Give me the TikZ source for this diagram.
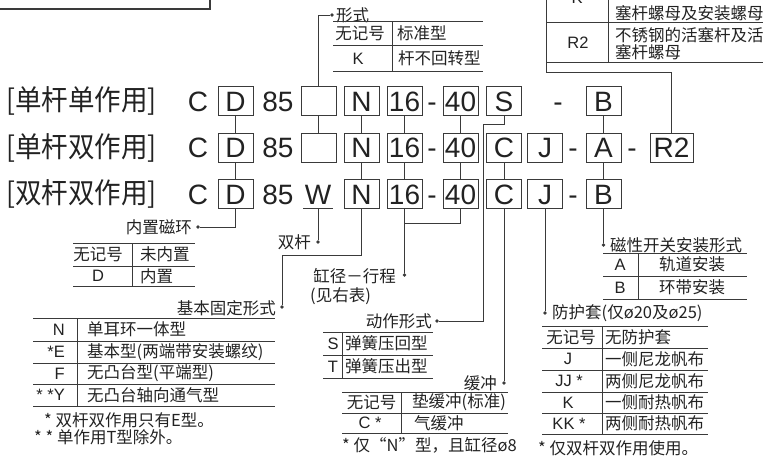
\documentclass[tikz,border=0pt]{standalone}
\usepackage{fontspec}
\setmainfont{Liberation Sans}
\newfontfamily\cjk{Noto Sans CJK SC}
\definecolor{ink}{HTML}{222222}
\definecolor{ln}{HTML}{3A3A3A}
\begin{document}
\begin{tikzpicture}[x=1pt,y=-1pt,
  big/.style={font=\fontsize{28}{28}\selectfont, text=ink, inner sep=0pt, text height=20pt, text depth=0pt},
  bigcjk/.style={font=\cjk\fontsize{28.5}{28.5}\selectfont, text=ink, inner sep=0pt},
  code/.style={big, draw=ln, line width=0.9pt, minimum width=35pt, minimum height=29pt},
  sm/.style={font=\cjk\fontsize{16.5}{16.5}\selectfont, text=ink, inner sep=0pt},
  lat/.style={font=\fontsize{16.5}{16.5}\selectfont, text=ink, inner sep=0pt},
  conn/.style={draw=ln, line width=0.9pt},
  rulel/.style={draw=ln, line width=0.9pt},
  dotm/.style={circle, fill=ln, inner sep=0pt, minimum size=3.8pt}
]
\useasboundingbox (0,0) rectangle (763,456);
\begin{scope}
\clip (0,0) rectangle (763,456);

% top-left box fragment
\draw[draw=ln, line width=1.8pt] (-5,9) -- (210,9) -- (210,-5);

% top-right table fragment
\draw[rulel] (546,22) -- (770,22);
\draw[rulel] (546,62) -- (770,62);
\draw[rulel] (608,-5) -- (608,62);
\node[lat] (tK) at (577,-2) {K};
\node[sm, anchor=west] (tK2) at (615,13) {塞杆螺母及安装螺母};
\node[lat] (tR2) at (578,43) {R2};
\node[sm, anchor=west] (tR2a) at (615,35) {不锈钢的活塞杆及活};
\node[sm, anchor=west] (tR2b) at (615,52) {塞杆螺母};

% ---------- code rows ----------
\node[bigcjk, anchor=west] (l1) at (6,101) {\scalebox{0.93}[1]{[单杆单作用]}};
\node[bigcjk, anchor=west] (l2) at (6,147.5) {\scalebox{0.93}[1]{[单杆双作用]}};
\node[bigcjk, anchor=west] (l3) at (6,194) {\scalebox{0.93}[1]{[双杆双作用]}};

% row 1
\node[big] (c1) at (198,101) {C};
\node[code] (d1) at (235.5,101) {D};
\node[big] (k1) at (278,101) {85};
\node[code] (e1) at (318.5,101) {};
\node[code] (n1) at (361.5,101) {N};
\node[code] (s1) at (404.5,101) {16};
\node[big] (h11) at (432,101) {-};
\node[code] (f1) at (460.5,101) {40};
\node[code] (a1) at (504,101) {S};
\node[big] (h12) at (558,101) {-};
\node[code] (b1) at (603.5,101) {B};

% row 2
\node[big] (c2) at (198,147.5) {C};
\node[code] (d2) at (235.5,147.5) {D};
\node[big] (k2) at (278,147.5) {85};
\node[code] (e2) at (318.5,147.5) {};
\node[code] (n2) at (361.5,147.5) {N};
\node[code] (s2) at (404.5,147.5) {16};
\node[big] (h21) at (432,147.5) {-};
\node[code] (f2) at (460.5,147.5) {40};
\node[code] (cc2) at (504,147.5) {C};
\node[code] (j2) at (545,147.5) {J};
\node[big] (h22) at (573,147.5) {-};
\node[code] (b2) at (603.5,147.5) {A};
\node[big] (h23) at (632,147.5) {-};
\node[code, minimum width=43pt] (r2) at (671.5,147.5) {R2};

% row 3
\node[big] (c3) at (198,194) {C};
\node[code] (d3) at (235.5,194) {D};
\node[big] (k3) at (278,194) {85};
\node[big] (w3) at (318,194) {W};
\node[code] (n3) at (361.5,194) {N};
\node[code] (s3) at (404.5,194) {16};
\node[big] (h31) at (432,194) {-};
\node[code] (f3) at (460.5,194) {40};
\node[code] (cc3) at (504,194) {C};
\node[code] (j3) at (545,194) {J};
\node[big] (h32) at (573,194) {-};
\node[code] (b3) at (603.5,194) {B};
\coordinate (wu) at (318,208);
\draw[conn] (303,208) -- (333,208);

% ---------- connectors ----------
% D
\draw[conn] (d1.south) -- (d2.north);
\draw[conn] (d2.south) -- (d3.north);
\node[dotm] (dD) at (198,227) {};
\draw[conn] (d3.south) |- (dD);
\node[sm, anchor=east] (tD) at (192,227) {内置磁环};

% empty box -> 形式
\draw[conn] (e1.south) -- (e2.north);
\node[dotm] (dE) at (332,15) {};
\draw[conn] (e1.north) |- (dE);
\node[sm, anchor=west] (tE) at (336,15) {形式};

% W
\node[dotm] (dW) at (318,242) {};
\draw[conn] (wu) -- (dW);
\node[sm, anchor=east] (tW) at (311,242) {双杆};

% N
\draw[conn] (n1.south) -- (n2.north);
\draw[conn] (n2.south) -- (n3.north);
\node[dotm] (dN) at (282,307) {};
\coordinate (nk) at (361.5,255);
\draw[conn] (n3.south) -- (nk) -| (dN);
\node[sm, anchor=east] (tN) at (276,308) {基本固定形式};

% 16 / 40
\draw[conn] (s1.south) -- (s2.north);
\draw[conn] (s2.south) -- (s3.north);
\draw[conn] (f1.south) -- (f2.north);
\draw[conn] (f2.south) -- (f3.north);
\coordinate (j16) at (404.5,223);
\draw[conn] (f3.south) |- (j16);
\node[dotm] (dS) at (404.5,275) {};
\draw[conn] (s3.south) -- (dS);
\node[sm, anchor=east] (tS1) at (396,276) {缸径－行程};
\node[sm, anchor=west] (tS2) at (310,296) {(见右表)};

% S -> 动作形式
\coordinate (sk1) at (504,124);
\coordinate (sk2) at (483,124);
\node[dotm] (dA) at (437,321) {};
\draw[conn] (a1.south) -- (sk1) -- (sk2) |- (dA);
\node[sm, anchor=east] (tA) at (432,321) {动作形式};

% C -> 缓冲
\draw[conn] (cc2.south) -- (cc3.north);
\node[dotm] (dC) at (504,383) {};
\draw[conn] (cc3.south) -- (dC);
\node[sm, anchor=east] (tC) at (497,383) {缓冲};

% J -> 防护套
\node[dotm] (dJ) at (545,313) {};
\draw[conn] (j3.south) -- (dJ);
\node[sm, anchor=west] (tJ) at (552,313) {防护套(仅ø20及ø25)};

% B/A -> 磁性开关
\draw[conn] (b1.south) -- (b2.north);
\draw[conn] (b2.south) -- (b3.north);
\node[dotm] (dB) at (603.5,245) {};
\draw[conn] (b3.south) -- (dB);
\node[sm, anchor=west] (tB) at (610,245) {磁性开关安装形式};

% R2 -> top table
\coordinate (rk1) at (671.5,72);
\coordinate (rk2) at (546,72);
\coordinate (rk3) at (546,-5);
\draw[conn] (r2.north) -- (rk1) -- (rk2) -- (rk3);

% ---------- tables ----------
% 形式
\draw[rulel] (333,21) -- (483,21);
\draw[rulel] (333,45) -- (483,45);
\draw[rulel] (333,71) -- (483,71);
\draw[rulel] (392,21) -- (392,71);
\node[sm] (f1a) at (360,33) {无记号};
\node[sm, anchor=west] (f1b) at (397,33) {标准型};
\node[lat] (f2a) at (358,58.5) {K};
\node[sm, anchor=west] (f2b) at (398,58.5) {杆不回转型};

% 内置磁环
\draw[rulel] (73,243) -- (195,243);
\draw[rulel] (73,266) -- (195,266);
\draw[rulel] (73,286) -- (195,286);
\draw[rulel] (132,243) -- (132,286);
\node[sm] (m1a) at (98,254.5) {无记号};
\node[sm, anchor=west] (m1b) at (140,254.5) {未内置};
\node[lat] (m2a) at (98,276) {D};
\node[sm, anchor=west] (m2b) at (140,276) {内置};

% 基本固定形式
\foreach \yy in {318,341,363,384,406} \draw[rulel] (33,\yy) -- (275,\yy);
\draw[rulel] (77,318) -- (77,406);
\node[lat, anchor=east] (b1a) at (65,329.5) {N};
\node[sm, anchor=west] (b1b) at (87,329.5) {单耳环一体型};
\node[lat, anchor=east] (b2a) at (65,352) {*E};
\node[sm, anchor=west] (b2b) at (87,352) {基本型(两端带安装螺纹)};
\node[lat, anchor=east] (b3a) at (65,373.5) {F};
\node[sm, anchor=west] (b3b) at (87,373.5) {无凸台型(平端型)};
\node[lat, anchor=east] (b4a) at (65,395) {* *Y};
\node[sm, anchor=west] (b4b) at (87,395) {无凸台轴向通气型};
\node[sm, anchor=west] (bn1) at (44,420) {* 双杆双作用只有E型。};
\node[sm, anchor=west] (bn2) at (34,437) {* * 单作用T型除外。};

% 动作形式
\draw[rulel] (323,332) -- (433,332);
\draw[rulel] (323,355) -- (433,355);
\draw[rulel] (323,378) -- (433,378);
\draw[rulel] (342,332) -- (342,378);
\node[lat] (a1a) at (333,343.5) {S};
\node[sm, anchor=west] (a1b) at (345,343.5) {弹簧压回型};
\node[lat] (a2a) at (333,366.5) {T};
\node[sm, anchor=west] (a2b) at (345,366.5) {弹簧压出型};

% 缓冲
\draw[rulel] (342,392) -- (508,392);
\draw[rulel] (342,413) -- (508,413);
\draw[rulel] (342,433) -- (508,433);
\draw[rulel] (401,392) -- (401,433);
\node[sm] (q1a) at (371.5,402.5) {无记号};
\node[sm, anchor=west] (q1b) at (412,402.5) {垫缓冲(标准)};
\node[lat] (q2a) at (370,423) {C *};
\node[sm, anchor=west] (q2b) at (414,423) {气缓冲};
\node[sm, anchor=west] (qn) at (342,445) {* 仅“N”型，且缸径ø8};

% 磁性开关安装形式
\draw[rulel] (603,253) -- (747,253);
\draw[rulel] (603,276) -- (747,276);
\draw[rulel] (603,299) -- (747,299);
\draw[rulel] (638,253) -- (638,299);
\node[lat] (g1a) at (620,264.5) {A};
\node[sm] (g1b) at (692,264.5) {轨道安装};
\node[lat] (g2a) at (620,287.5) {B};
\node[sm] (g2b) at (692,287.5) {环带安装};

% 防护套
\foreach \yy in {326,348,370,392,413,434} \draw[rulel] (542,\yy) -- (708,\yy);
\draw[rulel] (602,326) -- (602,434);
\node[sm] (p1a) at (571,337) {无记号};
\node[sm, anchor=west] (p1b) at (605,337) {无防护套};
\node[lat] (p2a) at (568,359) {J};
\node[sm, anchor=west] (p2b) at (605,359) {一侧尼龙帆布};
\node[lat] (p3a) at (569,381) {JJ *};
\node[sm, anchor=west] (p3b) at (605,381) {两侧尼龙帆布};
\node[lat] (p4a) at (568,402.5) {K};
\node[sm, anchor=west] (p4b) at (605,402.5) {一侧耐热帆布};
\node[lat] (p5a) at (569,423.5) {KK *};
\node[sm, anchor=west] (p5b) at (605,423.5) {两侧耐热帆布};
\node[sm, anchor=west] (pn) at (538,448) {* 仅双杆双作用使用。};

\end{scope}
\end{tikzpicture}
\end{document}
